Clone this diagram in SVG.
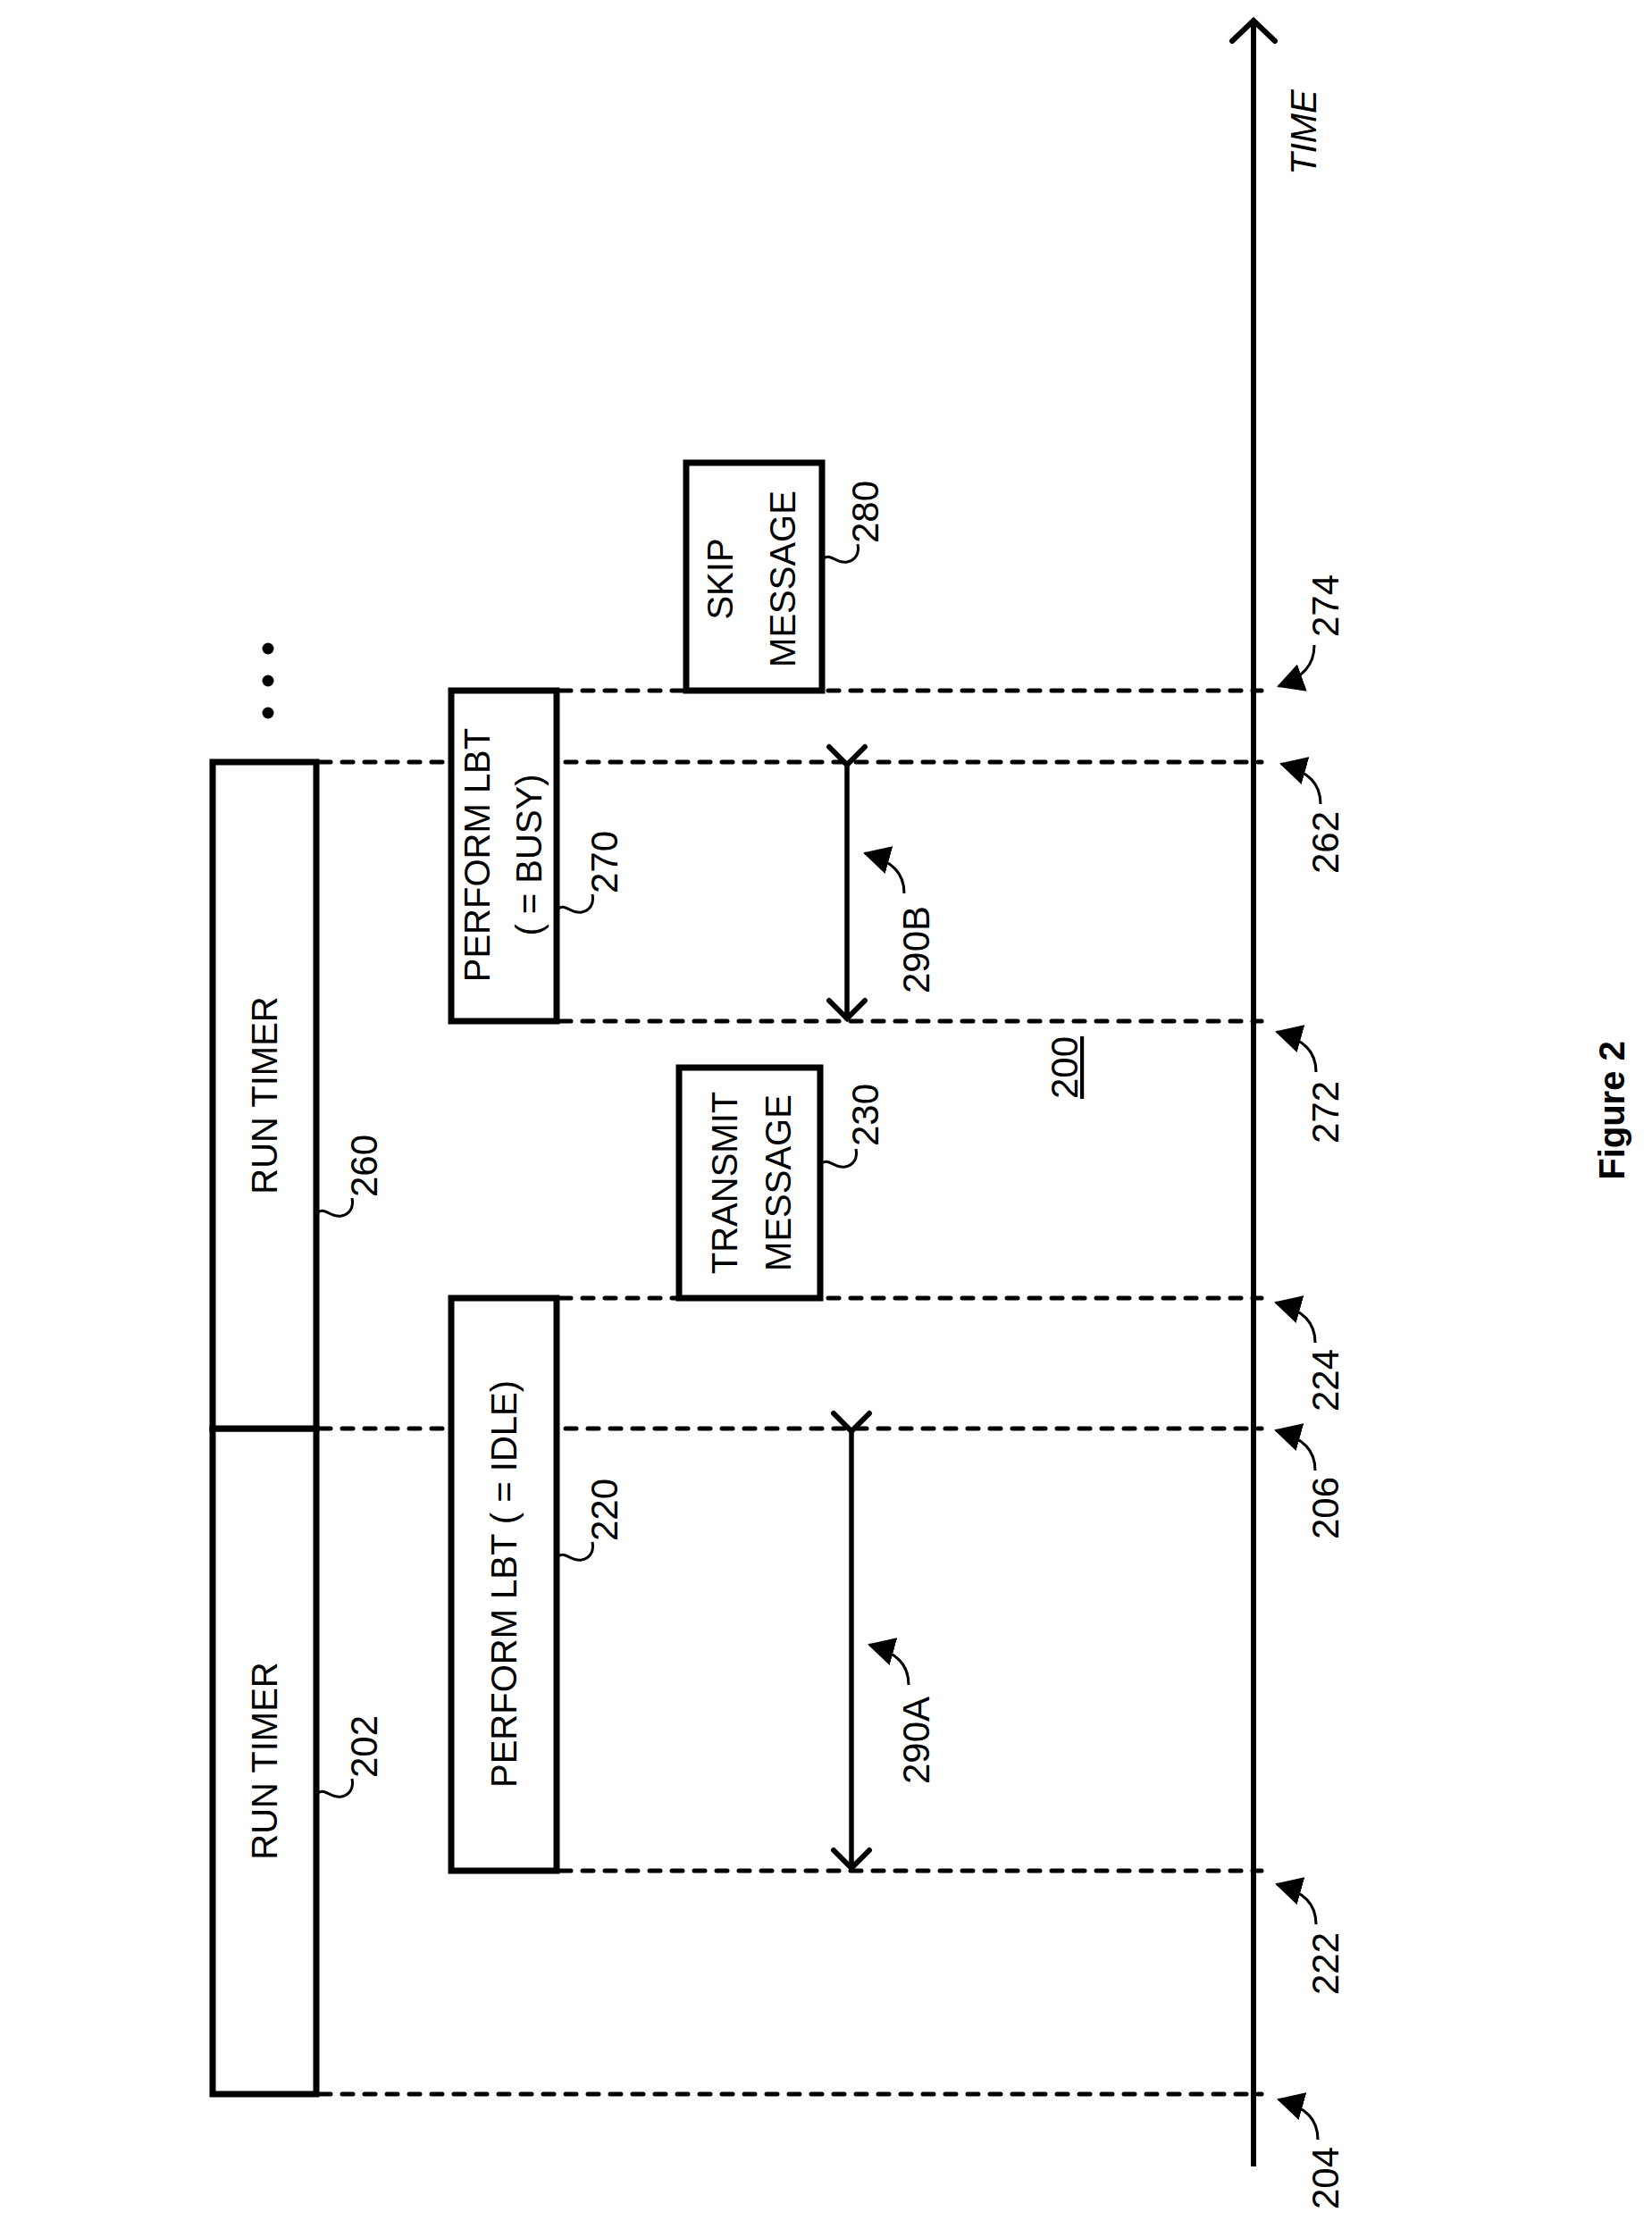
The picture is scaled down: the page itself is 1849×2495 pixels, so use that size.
<svg xmlns="http://www.w3.org/2000/svg" width="1849" height="2495" viewBox="0 0 1849 2495">
<style>
.box{fill:#fff;stroke:#000;stroke-width:7}
.dash{stroke:#000;stroke-width:5;stroke-dasharray:12 13;stroke-linecap:round;fill:none}
.t{font-family:"Liberation Sans",Arial,sans-serif;font-size:40px;fill:#000}
.n{font-family:"Liberation Sans",Arial,sans-serif;font-size:42px;fill:#000}
.ld{fill:none;stroke:#000;stroke-width:3}
</style>
<defs>
<marker id="ha" markerWidth="30" markerHeight="50" refX="24" refY="25" orient="auto" viewBox="0 0 30 50" markerUnits="userSpaceOnUse"><path d="M4,5 L24,25 L4,45" fill="none" stroke="#000" stroke-width="6" stroke-linecap="round"/></marker>
<marker id="sa" markerWidth="30" markerHeight="32" refX="28" refY="16" orient="auto" viewBox="0 0 30 32" markerUnits="userSpaceOnUse"><path d="M0,0 L30,16 L0,32 z"/></marker>
<marker id="big" markerWidth="30" markerHeight="56" refX="26" refY="28" orient="auto" viewBox="0 0 30 56" markerUnits="userSpaceOnUse"><path d="M3,4 L26,28 L3,52" fill="none" stroke="#000" stroke-width="6" stroke-linecap="round"/></marker>
</defs>
<g id="connectors">
<line x1="1403" y1="2425" x2="1403" y2="23" stroke="#000" stroke-width="6" marker-end="url(#big)"/>
<path class="dash" d="M358,2344H1412M627,2094H1412M358,1599H1412M627,1453H1412M627,1143H1412M358,853H1412M627,773H1412"/>
<line x1="953" y1="1602" x2="953" y2="2091" stroke="#000" stroke-width="5.5" marker-start="url(#ha)" marker-end="url(#ha)"/>
<line x1="948" y1="856" x2="948" y2="1140" stroke="#000" stroke-width="5.5" marker-start="url(#ha)" marker-end="url(#ha)"/>
</g>
<g id="n202"><rect class="box" x="238" y="1599" width="116" height="745"/><text class="t" transform="translate(310,1971) rotate(-90)" text-anchor="middle">RUN TIMER</text></g>
<g id="n260"><rect class="box" x="238" y="853" width="116" height="746"/><text class="t" transform="translate(310,1226) rotate(-90)" text-anchor="middle">RUN TIMER</text></g>
<g id="n220"><rect class="box" x="505" y="1453" width="118" height="641"/><text class="t" transform="translate(578,1773) rotate(-90)" text-anchor="middle">PERFORM LBT ( = IDLE)</text></g>
<g id="n270"><rect class="box" x="505" y="773" width="118" height="370"/><text class="t" transform="translate(548,957) rotate(-90)" text-anchor="middle">PERFORM LBT</text><text class="t" transform="translate(606,957) rotate(-90)" text-anchor="middle">( = BUSY)</text></g>
<g id="n230"><rect class="box" x="760" y="1195" width="158" height="258"/><text class="t" transform="translate(825,1324) rotate(-90)" text-anchor="middle">TRANSMIT</text><text class="t" transform="translate(885,1324) rotate(-90)" text-anchor="middle">MESSAGE</text></g>
<g id="n280"><rect class="box" x="768" y="518" width="152" height="255"/><text class="t" transform="translate(820,648) rotate(-90)" text-anchor="middle">SKIP</text><text class="t" transform="translate(890,648) rotate(-90)" text-anchor="middle">MESSAGE</text></g>
<g id="dots"><circle cx="300" cy="726" r="6.5"/><circle cx="300" cy="762" r="6.5"/><circle cx="300" cy="798" r="6.5"/></g>
<g id="labels">
<path class="ld" d="M356,2007 c8,-6 14,6 26,4 c10,-2 14,-10 12,-20"/><text class="n" transform="translate(422,1990) rotate(-90)">202</text>
<path class="ld" d="M625,1742 c8,-6 14,6 26,4 c10,-2 14,-10 12,-20"/><text class="n" transform="translate(691,1725) rotate(-90)">220</text>
<path class="ld" d="M356,1357 c8,-6 14,6 26,4 c10,-2 14,-10 12,-20"/><text class="n" transform="translate(422,1340) rotate(-90)">260</text>
<path class="ld" d="M625,1017 c8,-6 14,6 26,4 c10,-2 14,-10 12,-20"/><text class="n" transform="translate(691,1000) rotate(-90)">270</text>
<path class="ld" d="M920,1302 c8,-6 14,6 26,4 c10,-2 14,-10 12,-20"/><text class="n" transform="translate(983,1283) rotate(-90)">230</text>
<path class="ld" d="M922,625 c8,-6 14,6 26,4 c10,-2 14,-10 12,-20"/><text class="n" transform="translate(983,608) rotate(-90)">280</text>
<path class="ld" d="M1017,1886 c0,-22 -12,-36 -44,-45" marker-end="url(#sa)"/><text class="n" transform="translate(1040,1997) rotate(-90)">290A</text>
<path class="ld" d="M1012,1000 c0,-22 -12,-36 -44,-45" marker-end="url(#sa)"/><text class="n" transform="translate(1040,1112) rotate(-90)">290B</text>
<path class="ld" d="M1475,2395 c0,-22 -12,-36 -44,-45" marker-end="url(#sa)"/><text class="n" transform="translate(1498,2473) rotate(-90)">204</text>
<path class="ld" d="M1473,2154 c0,-22 -12,-36 -44,-45" marker-end="url(#sa)"/><text class="n" transform="translate(1498,2233) rotate(-90)">222</text>
<path class="ld" d="M1472,1646 c0,-22 -12,-36 -44,-45" marker-end="url(#sa)"/><text class="n" transform="translate(1498,1723) rotate(-90)">206</text>
<path class="ld" d="M1472,1503 c0,-22 -12,-36 -44,-45" marker-end="url(#sa)"/><text class="n" transform="translate(1498,1580) rotate(-90)">224</text>
<path class="ld" d="M1473,1200 c0,-22 -12,-36 -44,-45" marker-end="url(#sa)"/><text class="n" transform="translate(1498,1280) rotate(-90)">272</text>
<path class="ld" d="M1478,900 c0,-22 -12,-36 -44,-45" marker-end="url(#sa)"/><text class="n" transform="translate(1498,978) rotate(-90)">262</text>
<path class="ld" d="M1471,722 c0,22 -12,36 -40,46" marker-end="url(#sa)"/><text class="n" transform="translate(1498,713) rotate(-90)">274</text>
<text class="t" transform="translate(1473,148) rotate(-90)" text-anchor="middle" font-style="italic" font-size="44">TIME</text>
<text class="n" transform="translate(1206,1195) rotate(-90)" text-anchor="middle" text-decoration="underline">200</text>
<text class="t" transform="translate(1818,1243) rotate(-90)" text-anchor="middle" font-weight="bold" font-size="60">Figure 2</text>
</g>
</svg>
